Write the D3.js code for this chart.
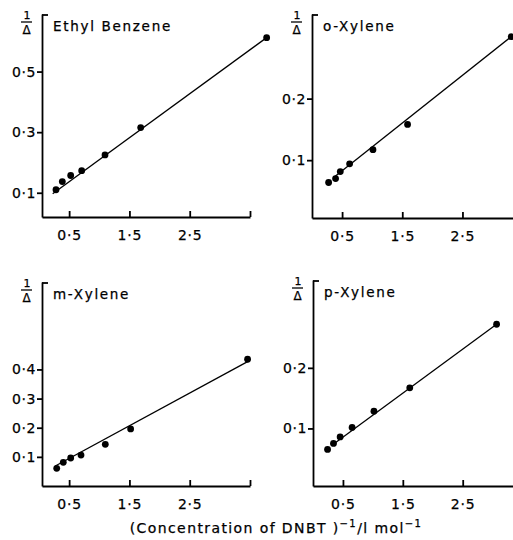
<!DOCTYPE html>
<html>
<head>
<meta charset="utf-8">
<script src="https://cdn.jsdelivr.net/npm/d3@7"></script>
<style>
  body { margin: 0; background: #fff; }
  text { font-family: "DejaVu Sans", sans-serif; fill: #000; stroke: #000; stroke-width: 0.25; }
</style>
</head>
<body>
<div id="viz"></div>
<script>

//data
let titles = ['Ethyl Benzene', 'o-Xylene', 'm-Xylene', 'p-Xylene']

let xValues = [
	[0.282, 0.387, 0.526, 0.708, 1.095, 1.687, 3.776],
	[0.276, 0.392, 0.470, 0.625, 1.013, 1.588, 3.310],
	[0.294, 0.403, 0.526, 0.697, 1.100, 1.520, 3.460],
	[0.243, 0.342, 0.453, 0.653, 1.018, 1.616, 3.066]
]

let yValues = [
	[0.110, 0.137, 0.157, 0.173, 0.225, 0.315, 0.612],
	[0.0637, 0.070, 0.0815, 0.094, 0.117, 0.158, 0.3006],
	[0.0607, 0.0813, 0.096, 0.106, 0.143, 0.196, 0.435],
	[0.0653, 0.0752, 0.086, 0.1017, 0.1285, 0.167, 0.272]
]

//fitted straight lines, [x, y] at each end
let lineStart = [[0.227, 0.097], [0.354, 0.0713], [0.27, 0.0686], [0.316, 0.0724]]
let lineEnd = [[3.776, 0.612], [3.31, 0.3006], [3.46, 0.4266], [3.066, 0.272]]

let xTicks = [0.5, 1.5, 2.5, 3.5]
let yTicks = [[0.1, 0.3, 0.5], [0.1, 0.2], [0.1, 0.2, 0.3, 0.4], [0.1, 0.2]]

let xDomains = [[0.05, 3.5], [0, 3.34], [0.05, 3.5], [0, 3.34]]
let yDomains = [[0.02, 0.69], [0.006, 0.3375], [0, 0.7], [0.005, 0.345]]

//pixel boxes for each panel: left, right, top, bottom
let boxes = [[42, 250, 14, 217], [312, 513, 14, 218], [42, 250, 282, 486], [313, 513, 280, 486]]

let svg = d3.select('#viz')
			.append('svg')
			.attr('width', 513)
			.attr('height', 540)

let fmt = d => d === 3.5 ? '' : String(d).replace('.', '·')

titles.forEach((title, i) => {

	let [left, right, top, bottom] = boxes[i]

	let x = d3.scaleLinear().domain(xDomains[i]).range([left, right])
	let y = d3.scaleLinear().domain(yDomains[i]).range([bottom, top])

	let g = svg.append('g')

	//x axis, ticks pointing inwards
	let xAxis = g.append('g')
				.attr('transform', `translate(0, ${bottom})`)
				.call(d3.axisBottom(x)
						.tickValues(xTicks)
						.tickSizeInner(-6)
						.tickSizeOuter(0)
						.tickPadding(8)
						.tickFormat(fmt))

	xAxis.selectAll('text')
		.attr('font-size', 14)
		.attr('letter-spacing', 0.8)
		.attr('dy', '1.05em')

	//y axis, ticks pointing outwards
	let yAxis = g.append('g')
				.attr('transform', `translate(${left}, 0)`)
				.call(d3.axisLeft(y)
						.tickValues(yTicks[i])
						.tickSizeInner(5)
						.tickSizeOuter(0)
						.tickPadding(1)
						.tickFormat(fmt))

	yAxis.selectAll('text')
		.attr('font-size', 14)
		.attr('letter-spacing', 0.6)

	g.selectAll('.domain, .tick line')
		.attr('stroke', '#000')
		.attr('stroke-width', 1.8)

	//small hook at the top of the y axis
	g.append('path')
		.attr('d', `M${left},${top + 1}H${left + 6}`)
		.attr('stroke', '#000')
		.attr('stroke-width', 1.8)

	//1/Δ label
	g.append('text')
		.attr('x', left - 15)
		.attr('y', top + 5)
		.attr('text-anchor', 'middle')
		.attr('font-size', 11)
		.text('1')

	g.append('path')
		.attr('d', `M${left - 21},${top + 8}H${left - 10}`)
		.attr('stroke', '#000')
		.attr('stroke-width', 1.3)

	g.append('text')
		.attr('x', left - 15.5)
		.attr('y', top + 20)
		.attr('text-anchor', 'middle')
		.attr('font-size', 12)
		.text('Δ')

	//panel title
	g.append('text')
		.attr('x', left + 11)
		.attr('y', top + 17)
		.attr('font-size', 13.5)
		.attr('letter-spacing', 1.7)
		.text(title)

	//fitted line
	g.append('line')
		.attr('x1', x(lineStart[i][0]))
		.attr('y1', y(lineStart[i][1]))
		.attr('x2', x(lineEnd[i][0]))
		.attr('y2', y(lineEnd[i][1]))
		.attr('stroke', '#000')
		.attr('stroke-width', 1.3)

	//points
	g.selectAll('circle')
		.data(d3.zip(xValues[i], yValues[i]))
		.enter()
		.append('circle')
		.attr('cx', d => x(d[0]))
		.attr('cy', d => y(d[1]))
		.attr('r', 3.4)
		.attr('fill', '#000')
})

//shared x label
let label = svg.append('text')
				.attr('x', 276)
				.attr('y', 533)
				.attr('text-anchor', 'middle')
				.attr('font-size', 14)
				.attr('letter-spacing', 1.4)

label.append('tspan').text('(Concentration of DNBT )')
label.append('tspan').attr('dy', -6).attr('font-size', 10).text('−1')
label.append('tspan').attr('dy', 6).text('/l mol')
label.append('tspan').attr('dy', -6).attr('font-size', 10).text('−1')

</script>
</body>
</html>
